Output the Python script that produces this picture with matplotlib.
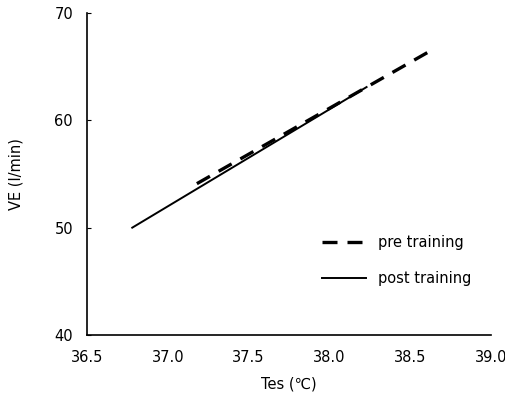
import matplotlib
matplotlib.use("Agg")
import matplotlib.pyplot as plt

# regression lines
pre_x = [37.18, 38.64]
pre_y = [54.1, 66.6]
post_x = [36.78, 38.23]
post_y = [50.0, 63.1]

xticks = [36.5, 37.0, 37.5, 38.0, 38.5, 39.0]
yticks = [40, 50, 60, 70]

fig = plt.figure(figsize=(5.06, 4.0), dpi=100)
ax = fig.add_axes([87/506, 65/400, 404/506, 322/400])

ax.plot(pre_x, pre_y, color='black', lw=2.4, ls=(0, (4.5, 3)), label='pre training')
ax.plot(post_x, post_y, color='black', lw=1.4, label='post training')

ax.set_xlim(36.5, 39.0)
ax.set_ylim(40, 70)
ax.set_xticks(xticks)
ax.set_xticklabels([f'{v:.1f}' for v in xticks])
ax.set_yticks(yticks)

ax.spines['top'].set_visible(False)
ax.spines['right'].set_visible(False)
ax.spines['left'].set_linewidth(1.2)
ax.spines['bottom'].set_linewidth(1.2)
ax.tick_params(axis='y', direction='in', length=3, labelsize=10.5, pad=10)
ax.tick_params(axis='x', length=0, labelsize=10.5, pad=11)

ax.set_xlabel('Tes (\u2103)', fontsize=10.5, labelpad=8)
ax.set_ylabel('VE (l/min)', fontsize=10.5, labelpad=22)

ax.legend(loc='upper left', bbox_to_anchor=(0.55, 0.35), frameon=False,
          fontsize=10.5, handlelength=3.0, handletextpad=0.8, labelspacing=1.4)

fig.savefig('out.png', dpi=100)
